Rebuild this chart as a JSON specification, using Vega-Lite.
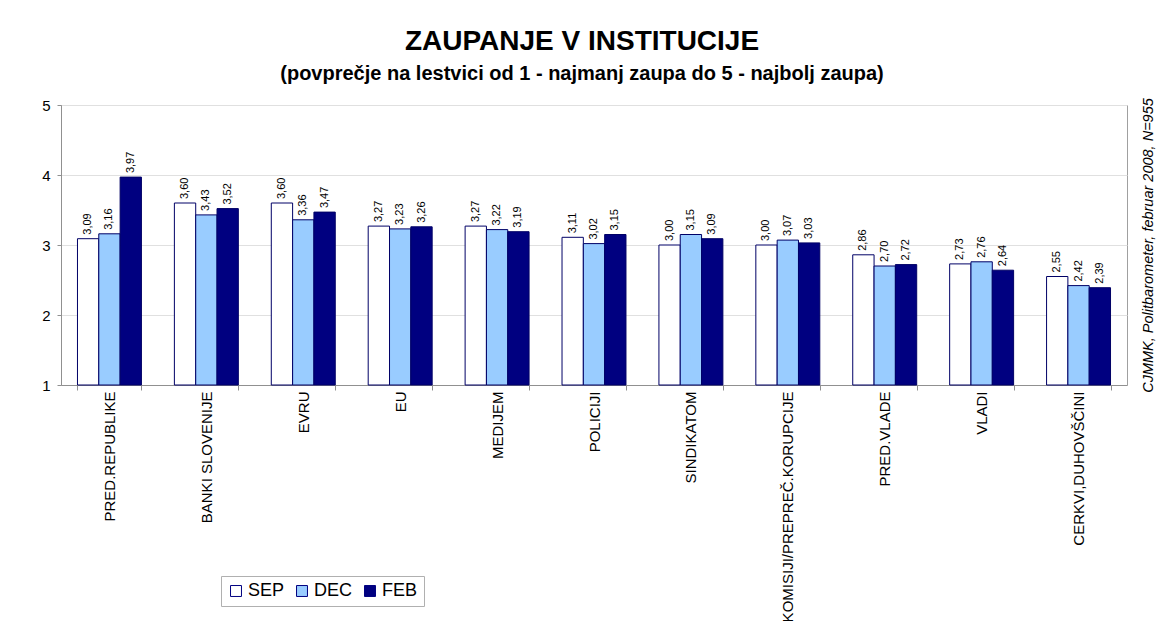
{
  "$schema": "https://vega.github.io/schema/vega-lite/v6.json",
  "autosize": {"type": "none"},
  "padding": {"left": 61, "top": 105, "right": 36, "bottom": 236},
  "width": 1066,
  "height": 280,
  "background": "white",
  "title": {
    "text": "ZAUPANJE V INSTITUCIJE",
    "subtitle": "(povprečje na lestvici od 1 - najmanj zaupa do 5 - najbolj zaupa)",
    "anchor": "middle",
    "dx": -12,
    "offset": 14,
    "font": "Liberation Sans",
    "fontSize": 28,
    "fontWeight": "bold",
    "color": "black",
    "subtitleFont": "Liberation Sans",
    "subtitleFontSize": 20,
    "subtitleFontWeight": "bold",
    "subtitleColor": "black",
    "subtitlePadding": 8
  },
  "data": {
    "values": [
      {"inst": "PRED.REPUBLIKE", "month": "SEP", "value": 3.09},
      {"inst": "PRED.REPUBLIKE", "month": "DEC", "value": 3.16},
      {"inst": "PRED.REPUBLIKE", "month": "FEB", "value": 3.97},
      {"inst": "BANKI SLOVENIJE", "month": "SEP", "value": 3.60},
      {"inst": "BANKI SLOVENIJE", "month": "DEC", "value": 3.43},
      {"inst": "BANKI SLOVENIJE", "month": "FEB", "value": 3.52},
      {"inst": "EVRU", "month": "SEP", "value": 3.60},
      {"inst": "EVRU", "month": "DEC", "value": 3.36},
      {"inst": "EVRU", "month": "FEB", "value": 3.47},
      {"inst": "EU", "month": "SEP", "value": 3.27},
      {"inst": "EU", "month": "DEC", "value": 3.23},
      {"inst": "EU", "month": "FEB", "value": 3.26},
      {"inst": "MEDIJEM", "month": "SEP", "value": 3.27},
      {"inst": "MEDIJEM", "month": "DEC", "value": 3.22},
      {"inst": "MEDIJEM", "month": "FEB", "value": 3.19},
      {"inst": "POLICIJI", "month": "SEP", "value": 3.11},
      {"inst": "POLICIJI", "month": "DEC", "value": 3.02},
      {"inst": "POLICIJI", "month": "FEB", "value": 3.15},
      {"inst": "SINDIKATOM", "month": "SEP", "value": 3.00},
      {"inst": "SINDIKATOM", "month": "DEC", "value": 3.15},
      {"inst": "SINDIKATOM", "month": "FEB", "value": 3.09},
      {"inst": "KOMISIJI/PREPREČ.KORUPCIJE", "month": "SEP", "value": 3.00},
      {"inst": "KOMISIJI/PREPREČ.KORUPCIJE", "month": "DEC", "value": 3.07},
      {"inst": "KOMISIJI/PREPREČ.KORUPCIJE", "month": "FEB", "value": 3.03},
      {"inst": "PRED.VLADE", "month": "SEP", "value": 2.86},
      {"inst": "PRED.VLADE", "month": "DEC", "value": 2.70},
      {"inst": "PRED.VLADE", "month": "FEB", "value": 2.72},
      {"inst": "VLADI", "month": "SEP", "value": 2.73},
      {"inst": "VLADI", "month": "DEC", "value": 2.76},
      {"inst": "VLADI", "month": "FEB", "value": 2.64},
      {"inst": "CERKVI,DUHOVŠČINI", "month": "SEP", "value": 2.55},
      {"inst": "CERKVI,DUHOVŠČINI", "month": "DEC", "value": 2.42},
      {"inst": "CERKVI,DUHOVŠČINI", "month": "FEB", "value": 2.39}
    ]
  },
  "encoding": {
    "x": {
      "field": "inst",
      "type": "nominal",
      "sort": null,
      "scale": {"paddingInner": 0.34, "paddingOuter": 0.17},
      "axis": {
        "title": null,
        "labelAngle": 270,
        "labelAlign": "right",
        "labelBaseline": "middle",
        "labelFont": "Liberation Sans",
        "labelFontSize": 15,
        "labelColor": "black",
        "labelLimit": 400,
        "labelPadding": 1,
        "tickBand": "extent",
        "tickSize": 5,
        "tickColor": "#909090",
        "domainColor": "#909090",
        "grid": false
      }
    },
    "xOffset": {"field": "month", "type": "nominal", "sort": ["SEP", "DEC", "FEB"], "scale": {"paddingInner": 0, "paddingOuter": 0}},
    "y": {
      "field": "value",
      "type": "quantitative",
      "scale": {"domain": [1, 5], "zero": false, "nice": false}
    }
  },
  "layer": [
    {
      "mark": {"type": "bar", "stroke": "#000066", "strokeWidth": 1},
      "encoding": {
        "y2": {"datum": 1},
        "y": {
          "field": "value",
          "type": "quantitative",
          "scale": {"domain": [1, 5], "zero": false, "nice": false},
          "axis": {
            "title": null,
            "values": [1, 2, 3, 4, 5],
            "format": "d",
            "labelFont": "Liberation Sans",
            "labelFontSize": 15,
            "labelColor": "black",
            "labelPadding": 7,
            "tickSize": 4,
            "tickColor": "#909090",
            "domainColor": "#909090",
            "gridColor": "#e0e0e0"
          }
        },
        "color": {
          "field": "month",
          "type": "nominal",
          "scale": {"domain": ["SEP", "DEC", "FEB"], "range": ["#ffffff", "#99ccff", "#000080"]},
          "legend": {
            "title": null,
            "orient": "none",
            "legendX": 160,
            "legendY": 471,
            "direction": "horizontal",
            "symbolType": "square",
            "symbolSize": 120,
            "symbolStrokeColor": "#000080",
            "symbolStrokeWidth": 1,
            "labelFont": "Liberation Sans",
            "labelFontSize": 18,
            "labelColor": "black",
            "labelOffset": 3,
            "columnPadding": 8,
            "padding": 6,
            "strokeColor": "#b0b0b0",
            "fillColor": "white"
          }
        }
      }
    },
    {
      "mark": {"type": "text", "angle": 270, "align": "left", "baseline": "middle", "dx": 4, "font": "Liberation Sans", "fontSize": 11, "color": "black"},
      "encoding": {
        "text": {"field": "value", "type": "quantitative", "format": ".2f"},
        "y": {
          "field": "value",
          "type": "quantitative",
          "scale": {"domain": [1, 5], "zero": false, "nice": false},
          "axis": {
            "orient": "right",
            "title": "CJMMK, Politbarometer, februar 2008, N=955",
            "titleAngle": 270,
            "titleFont": "Liberation Sans",
            "titleFontSize": 14.5,
            "titleFontStyle": "italic",
            "titleFontWeight": "normal",
            "titleColor": "black",
            "titlePadding": 28,
            "labels": false,
            "ticks": false,
            "domain": false,
            "grid": false
          }
        }
      }
    }
  ],
  "resolve": {"axis": {"y": "independent"}},
  "config": {
    "locale": {"number": {"decimal": ",", "thousands": ".", "grouping": [3], "currency": ["", " €"]}},
    "view": {"stroke": "#a0a0a0"}
  }
}
